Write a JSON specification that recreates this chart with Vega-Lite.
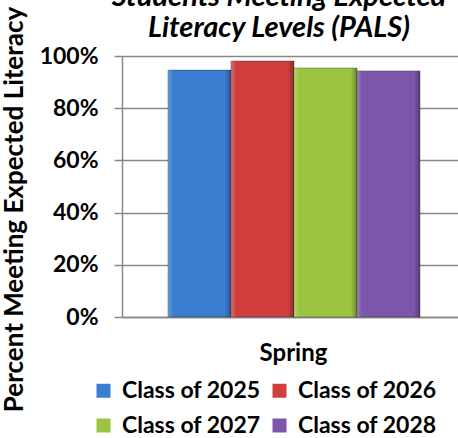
{
  "$schema": "https://vega.github.io/schema/vega-lite/v6.json",
  "width": 344,
  "height": 261,
  "autosize": {"type": "none"},
  "padding": {"left": 122, "top": 56, "right": 0, "bottom": 121},
  "background": "white",
  "config": {"font": "Lato", "view": {"stroke": null}},
  "title": {
    "text": ["Students Meeting Expected", "Literacy Levels (PALS)"],
    "font": "Lato",
    "fontSize": 29,
    "fontWeight": "bold",
    "fontStyle": "italic",
    "color": "#000",
    "anchor": "middle",
    "frame": "group",
    "dx": -15,
    "offset": 20,
    "dy": 57,
    "lineHeight": 31
  },
  "data": {
    "values": [
      {"season": "Spring", "cls": "Class of 2025", "value": 0.946},
      {"season": "Spring", "cls": "Class of 2026", "value": 0.981},
      {"season": "Spring", "cls": "Class of 2027", "value": 0.954},
      {"season": "Spring", "cls": "Class of 2028", "value": 0.943}
    ]
  },
  "encoding": {
    "x": {
      "field": "cls",
      "type": "nominal",
      "sort": null,
      "scale": {"paddingInner": 0, "paddingOuter": 0.73},
      "axis": {
        "labels": false,
        "ticks": false,
        "domain": true,
        "domainColor": "#888888",
        "domainWidth": 1.5,
        "title": "Spring",
        "titleFont": "Lato",
        "titleFontSize": 24,
        "titleFontWeight": "bold",
        "titleColor": "#000",
        "titleX": 171,
        "titleY": 43,
        "titleBaseline": "alphabetic",
        "titleAlign": "center"
      }
    },
    "y": {
      "field": "value",
      "type": "quantitative",
      "scale": {"domain": [0, 1]},
      "axis": {
        "format": ".0%",
        "values": [0, 0.2, 0.4, 0.6, 0.8, 1],
        "grid": true,
        "gridColor": "#888888",
        "gridWidth": 1.5,
        "tickColor": "#888888",
        "tickWidth": 1.5,
        "tickSize": 8,
        "domainColor": "#888888",
        "domainWidth": 1.5,
        "labelFont": "Lato",
        "labelFontSize": 23,
        "labelFontWeight": "bold",
        "labelColor": "#000",
        "labelPadding": 16,
        "title": "Percent Meeting Expected Literacy",
        "titleFont": "Lato",
        "titleFontSize": 26,
        "titleFontWeight": "bold",
        "titleColor": "#000",
        "titleX": -108,
        "titleY": 153,
        "titleAngle": 270,
        "titleAlign": "center",
        "titleBaseline": "middle"
      }
    }
  },
  "layer": [
    {
      "mark": {"type": "bar", "stroke": "#222", "strokeOpacity": 0.35, "strokeWidth": 1},
      "encoding": {
        "color": {
          "field": "cls",
          "type": "nominal",
          "scale": {
            "domain": ["Class of 2025", "Class of 2026", "Class of 2027", "Class of 2028"],
            "range": ["#3b7dd0", "#d03e3e", "#9bc540", "#7c56a8"]
          },
          "legend": {
            "orient": "none",
            "direction": "horizontal",
            "legendX": -30,
            "legendY": 323,
            "columns": 2,
            "title": null,
            "symbolType": "square",
            "symbolSize": 196,
            "symbolStrokeWidth": 0,
            "labelFont": "Lato",
            "labelFontSize": 23,
            "labelFontWeight": "bold",
            "labelColor": "#000",
            "labelOffset": 7,
            "labelLimit": 300,
            "columnPadding": 7,
            "rowPadding": 11
          }
        }
      }
    },
    {
      "mark": {
        "type": "bar",
        "fill": {
          "gradient": "linear",
          "x1": 0, "x2": 1, "y1": 0, "y2": 0,
          "stops": [
            {"offset": 0, "color": "rgba(255,255,255,0.25)"},
            {"offset": 0.08, "color": "rgba(255,255,255,0)"},
            {"offset": 0.9, "color": "rgba(0,0,0,0)"},
            {"offset": 1, "color": "rgba(0,0,0,0.3)"}
          ]
        }
      }
    }
  ]
}
